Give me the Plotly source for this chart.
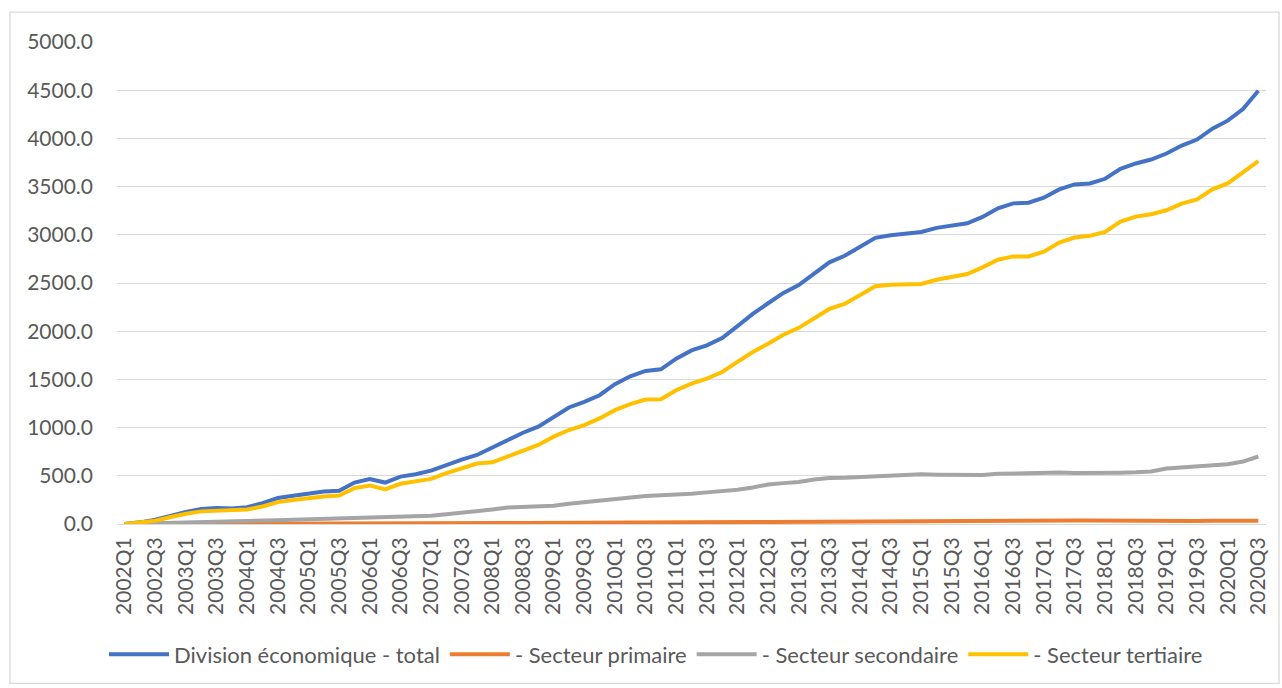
import plotly.graph_objects as go

quarters = [f"{y}Q{q}" for y in range(2002, 2021) for q in range(1, 5)][:75]

total = [0, 17, 45, 86, 124, 155, 165, 160, 174, 217, 269, 293, 313, 337, 344, 430, 465, 430, 492, 516,
         554, 613, 668, 716, 790, 871, 947, 1009, 1105, 1209, 1267, 1336, 1450, 1532, 1588, 1605, 1715, 1801, 1853, 1928,
         2052, 2180, 2290, 2397, 2479, 2603, 2714, 2782, 2876, 2968, 2996, 3010, 3030, 3072, 3099, 3120, 3185, 3275, 3326, 3333,
         3385, 3471, 3523, 3533, 3581, 3684, 3740, 3781, 3843, 3926, 3988, 4101, 4184, 4305, 4494]

primaire = [0, 0, 1, 1, 2, 2, 3, 3, 4, 4, 5, 5, 5, 6, 6, 7, 7, 8, 8, 9,
            9, 10, 10, 10, 10, 10, 11, 11, 11, 12, 12, 12, 13, 13, 14, 14, 15, 16, 17, 18,
            19, 20, 22, 23, 24, 26, 28, 30, 32, 33, 30, 33, 35, 35, 36, 36, 36, 37, 37, 37,
            38, 38, 37, 37, 36, 34, 30, 25, 22, 25, 30, 33, 35, 36, 34]

secondaire = [0, 5, 10, 15, 20, 23, 27, 30, 34, 37, 40, 44, 48, 52, 56, 62, 69, 70, 72, 79,
              86, 100, 114, 133, 150, 170, 175, 182, 190, 210, 228, 245, 260, 275, 290, 297, 303, 315, 328, 340,
              355, 379, 410, 424, 435, 462, 476, 479, 486, 495, 497, 505, 515, 512, 510, 508, 508, 520, 524, 528,
              540, 535, 528, 526, 528, 532, 536, 545, 575, 585, 593, 603, 621, 648, 700]

tertiaire = [0, 14, 34, 72, 107, 131, 138, 138, 151, 182, 227, 248, 269, 286, 296, 372, 400, 358, 417, 441,
             468, 527, 579, 627, 640, 699, 768, 820, 906, 975, 1026, 1095, 1181, 1243, 1291, 1295, 1388, 1457, 1508, 1577,
             1681, 1784, 1870, 1963, 2035, 2135, 2231, 2283, 2376, 2466, 2483, 2486, 2490, 2534, 2565, 2593, 2662, 2741, 2776, 2776,
             2824, 2920, 2972, 2989, 3030, 3137, 3189, 3213, 3254, 3323, 3368, 3471, 3533, 3643, 3764]

names = ["Division économique - total", "- Secteur primaire", "- Secteur secondaire", "- Secteur tertiaire"]
colors = ["#4472C4", "#ED7D31", "#A5A5A5", "#FFC000"]
series = [total, primaire, secondaire, tertiaire]

W, H = 1282, 688
L, R, T, B = 117, 16, 42, 162
pw, ph = W - L - R, H - T - B

fig = go.Figure()
for name, col, vals in zip(names, colors, series):
    fig.add_trace(go.Scatter(x=quarters, y=vals, name=name, mode="lines",
                             line=dict(color=col, width=4)))

font_family = "Lato"
txt = "#595959"

def px2paper_x(px):
    return (px - L) / pw

def px2paper_y(py):
    return (H - B - py) / ph

fig.update_layout(
    width=W, height=H,
    margin=dict(l=L, r=R, t=T, b=B),
    paper_bgcolor="white", plot_bgcolor="white",
    font=dict(family=font_family, size=21, color=txt),
    showlegend=True,
    legend=dict(orientation="h", x=px2paper_x(656), xanchor="center", y=px2paper_y(657), yanchor="middle",
                font=dict(family=font_family, size=22, color=txt), itemwidth=60,
                bgcolor="rgba(0,0,0,0)"),
    xaxis=dict(type="category", range=[-0.5, 74.5], tickmode="array", tickvals=quarters[::2],
               tickangle=-90, showgrid=False, showline=False, zeroline=False, ticks="",
               tickfont=dict(family=font_family, size=21, color=txt), ticklabelstandoff=8),
    yaxis=dict(range=[0, 5000], dtick=500, tickformat=".1f", showgrid=True, gridcolor="#D9D9D9",
               gridwidth=1.3, zeroline=True, zerolinecolor="#D9D9D9", zerolinewidth=1.3, showline=False,
               ticks="", tickfont=dict(family=font_family, size=21, color=txt), ticklabelstandoff=23),
    shapes=[dict(type="rect", xref="paper", yref="paper",
                 x0=px2paper_x(10), x1=px2paper_x(1279), y0=px2paper_y(686), y1=px2paper_y(12),
                 line=dict(color="#D9D9D9", width=1.3), fillcolor="rgba(0,0,0,0)", layer="below")],
)

fig.write_html("out.html", config={"displayModeBar": False},
               post_script="document.body.style.margin='0px';document.body.style.padding='0px';")
